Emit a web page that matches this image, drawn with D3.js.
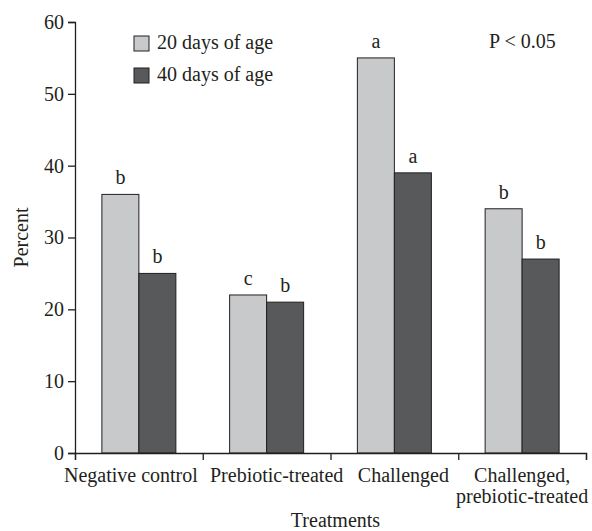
<!DOCTYPE html>
<html>
<head>
<meta charset="utf-8">
<script src="https://cdn.jsdelivr.net/npm/d3@7"></script>
<style>
  body { margin: 0; background: #fff; }
  text { font-family: "Liberation Serif", "DejaVu Serif", serif; fill: #231f20; }
</style>
</head>
<body>
<div id="chart"></div>
<script>
// data
var categories = ["Negative control", "Prebiotic-treated", "Challenged", "Challenged,\nprebiotic-treated"];
var series = ["20 days of age", "40 days of age"];
var day20 = [36, 22, 55, 34];
var day40 = [25, 21, 39, 27];
var letters20 = ["b", "c", "a", "b"];
var letters40 = ["b", "b", "a", "b"];
var yTicks = [0, 10, 20, 30, 40, 50, 60];

var WIDTH = 592, HEIGHT = 531;
var LEFT = 75, RIGHT = 586, TOP = 22, BOTTOM = 453;
var FONT = 20;
var COLORS = ["#c8c9cb", "#58595b"];
var INK = "#231f20";
// the category labels sit a little off the band centres in the original
var LABEL_SHIFT = [-8, 10, 9, 0];

var svg = d3.select("#chart").append("svg")
  .attr("width", WIDTH)
  .attr("height", HEIGHT);

var y = d3.scaleLinear().domain([0, 60]).range([BOTTOM, TOP]);
var x = d3.scaleBand().domain(categories).range([LEFT, RIGHT]).padding(0);
var BAR = 37;
var x1 = d3.scaleBand().domain(series)
  .range([x.bandwidth() / 2 - BAR, x.bandwidth() / 2 + BAR]);

// bars
var values = [day20, day40];
var lettersAll = [letters20, letters40];
series.forEach(function(s, si) {
  var g = svg.append("g");
  categories.forEach(function(c, ci) {
    var v = values[si][ci];
    var bx = x(c) + x1(s);
    g.append("rect")
      .attr("x", bx)
      .attr("y", y(v))
      .attr("width", x1.bandwidth())
      .attr("height", y(0) - y(v))
      .attr("fill", COLORS[si])
      .attr("stroke", INK)
      .attr("stroke-width", 1);
    g.append("text")
      .attr("x", bx + x1.bandwidth() / 2)
      .attr("y", y(v) - 10)
      .attr("text-anchor", "middle")
      .style("font-size", FONT + "px")
      .text(lettersAll[si][ci]);
  });
});

// y axis
var yAxis = svg.append("g")
  .attr("transform", "translate(" + LEFT + ",0)")
  .call(d3.axisLeft(y).tickValues(yTicks).tickSize(7).tickPadding(4));
yAxis.select(".domain").attr("stroke", INK).attr("stroke-width", 1.3);
yAxis.selectAll(".tick line").attr("stroke", INK).attr("stroke-width", 1.3);
yAxis.selectAll(".tick text")
  .style("font-size", FONT + "px")
  .style("font-family", "Liberation Serif, serif")
  .attr("fill", INK);

// x axis, ticks at the category boundaries
var xb = d3.scaleLinear().domain([0, 4]).range([LEFT, RIGHT]);
var xAxis = svg.append("g")
  .attr("transform", "translate(0," + BOTTOM + ")")
  .call(d3.axisBottom(xb).ticks(4).tickSize(7).tickFormat(""));
xAxis.select(".domain").attr("stroke", INK).attr("stroke-width", 1.3);
xAxis.selectAll(".tick line").attr("stroke", INK).attr("stroke-width", 1.3);

categories.forEach(function(c, ci) {
  var lines = c.split("\n");
  var cx = x(c) + x.bandwidth() / 2 + LABEL_SHIFT[ci];
  var t = svg.append("text")
    .attr("x", cx)
    .attr("y", BOTTOM + 29)
    .attr("text-anchor", "middle")
    .style("font-size", FONT + "px");
  lines.forEach(function(l, i) {
    t.append("tspan")
      .attr("x", cx)
      .attr("dy", i == 0 ? 0 : 21)
      .text(l);
  });
});

// axis titles
svg.append("text")
  .attr("x", (LEFT + RIGHT) / 2 + 5)
  .attr("y", BOTTOM + 74)
  .attr("text-anchor", "middle")
  .style("font-size", FONT + "px")
  .text("Treatments");

svg.append("text")
  .attr("transform", "translate(28," + (TOP + BOTTOM) / 2 + ") rotate(-90)")
  .attr("text-anchor", "middle")
  .style("font-size", FONT + "px")
  .text("Percent");

// legend
series.forEach(function(s, i) {
  svg.append("rect")
    .attr("x", 134)
    .attr("y", 36 + i * 32)
    .attr("width", 15)
    .attr("height", 15)
    .attr("fill", COLORS[i])
    .attr("stroke", INK)
    .attr("stroke-width", 1);
  svg.append("text")
    .attr("x", 157)
    .attr("y", 49 + i * 32)
    .style("font-size", FONT + "px")
    .text(s);
});

svg.append("text")
  .attr("x", 489)
  .attr("y", 48)
  .style("font-size", FONT + "px")
  .text("P < 0.05");
</script>
</body>
</html>
